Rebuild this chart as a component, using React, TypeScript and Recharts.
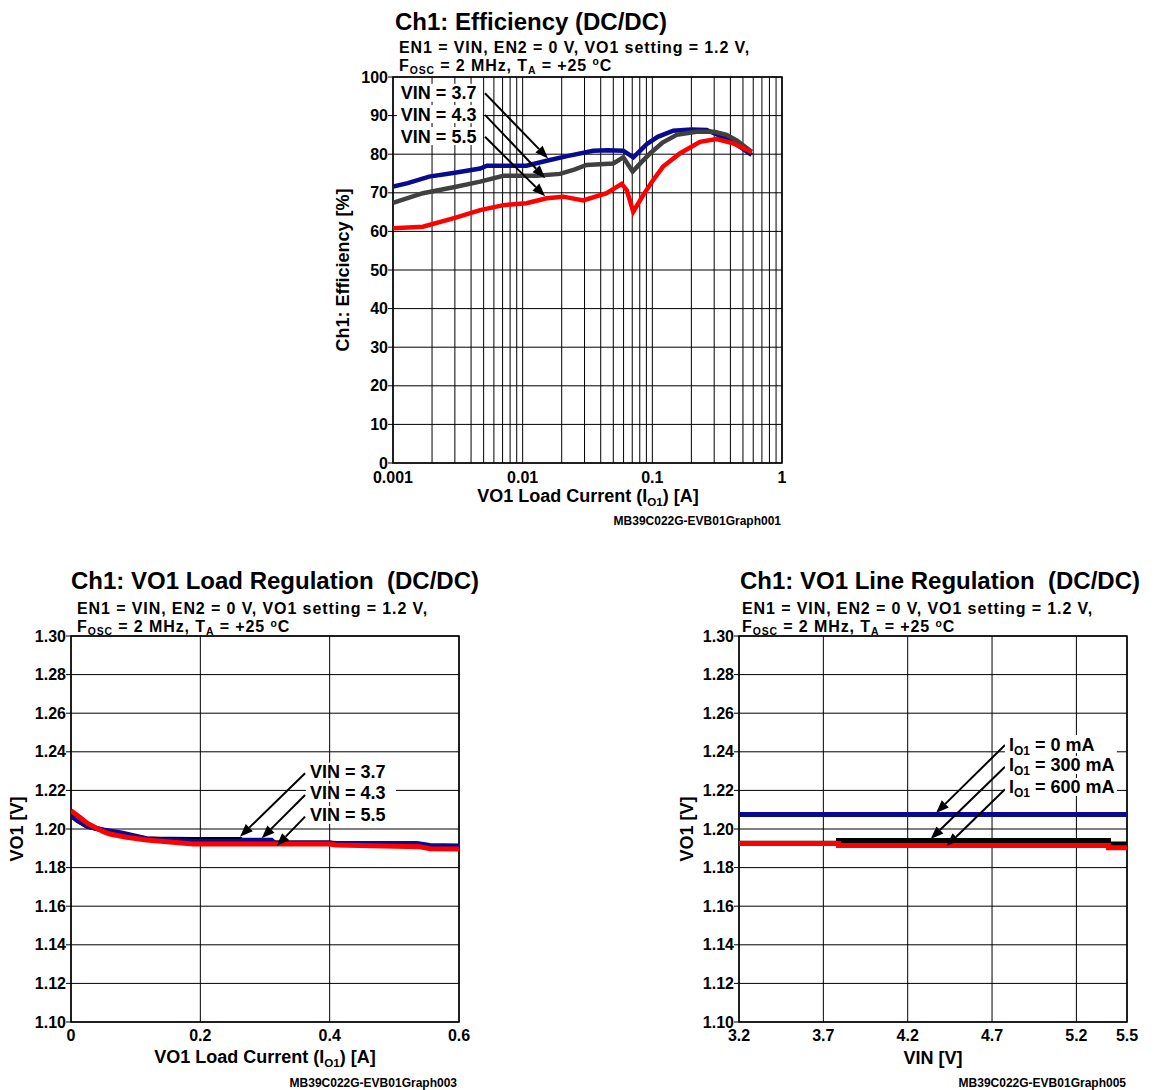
import React from "react";
import {
  LineChart,
  Line,
  XAxis,
  YAxis,
  CartesianGrid,
  ReferenceLine,
  ReferenceDot,
  ReferenceArea,
} from "recharts";

const FONT = "'Liberation Sans', Arial, Helvetica, sans-serif";

// ---------- Chart 1: efficiency vs load current (log x) ----------
const effXTicks = [
  0.001, 0.002, 0.003, 0.004, 0.005, 0.006, 0.007, 0.008, 0.009,
  0.01, 0.02, 0.03, 0.04, 0.05, 0.06, 0.07, 0.08, 0.09,
  0.1, 0.2, 0.3, 0.4, 0.5, 0.6, 0.7, 0.8, 0.9, 1,
];
const effDecades = [0.001, 0.01, 0.1, 1];
const effDecadeLabels = ["0.001", "0.01", "0.1", "1"];
const effYTicks = [0, 10, 20, 30, 40, 50, 60, 70, 80, 90, 100];

const cur37 = [0.001, 0.0013, 0.0019, 0.003, 0.0047, 0.0053, 0.0075, 0.0107, 0.0153, 0.022, 0.035, 0.045, 0.0597, 0.0713, 0.08, 0.0904, 0.11, 0.145, 0.2, 0.262, 0.352, 0.45, 0.583];
const eff37 = [71.6, 72.5, 74.2, 75.2, 76.3, 77.0, 77.0, 77.0, 78.3, 79.5, 80.9, 81.0, 80.9, 79.2, 80.8, 82.6, 84.5, 86.1, 86.4, 86.3, 84.4, 82.5, 79.8];

const cur43 = [0.001, 0.0017, 0.003, 0.0047, 0.0071, 0.0128, 0.0194, 0.025, 0.0311, 0.05, 0.0597, 0.0705, 0.08, 0.096, 0.12, 0.154, 0.219, 0.3, 0.374, 0.45, 0.583];
const eff43 = [67.4, 69.9, 71.5, 72.9, 74.4, 74.4, 74.9, 76.0, 77.2, 77.6, 79.2, 75.5, 77.5, 80.2, 83.0, 85.0, 85.8, 85.8, 85.0, 83.5, 80.6];

const cur55 = [0.001, 0.0017, 0.003, 0.0047, 0.0071, 0.0107, 0.0153, 0.0206, 0.0293, 0.0444, 0.058, 0.0634, 0.0713, 0.085, 0.1, 0.121, 0.163, 0.233, 0.313, 0.421, 0.583];
const eff55 = [60.8, 61.2, 63.5, 65.5, 66.8, 67.3, 68.6, 69.0, 68.0, 69.9, 72.3, 70.7, 65.1, 69.4, 73.0, 76.8, 80.2, 83.2, 83.9, 82.8, 80.6];

const vinLabels = ["VIN = 3.7", "VIN = 4.3", "VIN = 5.5"];
const effLabelX = 0.00115;
const effLabelY = [95.9, 90.4, 84.7];
const effArrowFrom = [[0.00512, 95.8], [0.00512, 90.2], [0.00512, 84.5]];
const effArrowTo = [[0.0157, 78.9], [0.0149, 73.8], [0.0149, 69.1]];

// ---------- Chart 2: load regulation ----------
const regYTicks = [1.1, 1.12, 1.14, 1.16, 1.18, 1.2, 1.22, 1.24, 1.26, 1.28, 1.3];
const loadXTicks = [0, 0.2, 0.4, 0.6];

const load43 = [0, 0.01, 0.025, 0.05, 0.086, 0.117, 0.189, 0.262, 0.266, 0.4, 0.41, 0.53, 0.555, 0.6];
const reg43 = [1.207, 1.2045, 1.2015, 1.1993, 1.1968, 1.1948, 1.1945, 1.1945, 1.1928, 1.1928, 1.1921, 1.1918, 1.1908, 1.1905];

const load37 = [0, 0.01, 0.025, 0.05, 0.08, 0.117, 0.189, 0.262, 0.266, 0.31, 0.315, 0.4, 0.41, 0.535, 0.555, 0.6];
const reg37 = [1.207, 1.2045, 1.2015, 1.1995, 1.1978, 1.195, 1.1936, 1.1936, 1.1942, 1.1942, 1.1928, 1.1928, 1.1925, 1.1925, 1.1915, 1.1912];

const load55 = [0, 0.012, 0.025, 0.05, 0.06, 0.086, 0.117, 0.189, 0.4, 0.41, 0.54, 0.555, 0.6];
const reg55 = [1.2095, 1.2065, 1.203, 1.1986, 1.1974, 1.1957, 1.1943, 1.1922, 1.1922, 1.1917, 1.1908, 1.1898, 1.1896];

const loadLabelX = 0.3696;
const loadLabelY = [1.2297, 1.2187, 1.2073];
const loadArrowFrom = [[0.362, 1.2289], [0.362, 1.2176], [0.362, 1.2064]];
const loadArrowTo = [[0.2613, 1.196], [0.2949, 1.1952], [0.318, 1.1912]];

// ---------- Chart 3: line regulation ----------
const vinXTicks = [3.2, 3.7, 4.2, 4.7, 5.2, 5.5];
const vinPts = [3.2, 3.79, 5.39, 5.5];
const vo0mA = [1.2075, 1.2075, 1.2075, 1.2075];
const vo300mA = [1.1926, 1.194, 1.1922, 1.1922];
const vo600mA = [1.1925, 1.1915, 1.1903, 1.1903];

const ioLabels = ["0 mA", "300 mA", "600 mA"];
const lineLabelX = 4.8;
const lineLabelY = [1.244, 1.2332, 1.2218];
const lineArrowFrom = [[4.777, 1.2435], [4.777, 1.2323], [4.777, 1.2206]];
const lineArrowTo = [[4.368, 1.2083], [4.336, 1.1948], [4.431, 1.1912]];

const pts = (xs: number[], ys: number[]) => xs.map((x, i) => ({ x, y: ys[i] }));

const tickStyle = { fontSize: 16, fontWeight: "bold", fill: "#000", fontFamily: FONT };

const Arrow = (p: any) => {
  const { x1, y1, x2, y2 } = p;
  const ang = Math.atan2(y2 - y1, x2 - x1);
  const L = 13;
  const W = 5;
  const bx = x2 - L * Math.cos(ang);
  const by = y2 - L * Math.sin(ang);
  const nx = -Math.sin(ang) * W;
  const ny = Math.cos(ang) * W;
  return (
    <g>
      <line x1={x1} y1={y1} x2={bx} y2={by} stroke="#000" strokeWidth={2} />
      <polygon points={`${x2},${y2} ${bx + nx},${by + ny} ${bx - nx},${by - ny}`} fill="#000" />
    </g>
  );
};

const labelShape = (content: React.ReactNode, width: number) => (p: any) => (
  <g>
    <rect x={p.cx - 4} y={p.cy - 9} width={width} height={18} fill="#fff" />
    <text
      x={p.cx}
      y={p.cy}
      dy="0.36em"
      fontSize={18}
      fontWeight="bold"
      fontFamily={FONT}
      fill="#000"
    >
      {content}
    </text>
  </g>
);

const ioContent = (v: string) => [
  <tspan key="a">I</tspan>,
  <tspan key="b" fontSize={12} dy={4}>O1</tspan>,
  <tspan key="c" dy={-4}>{` = ${v}`}</tspan>,
];

const DecadeTick = (props: any) => {
  const { x, y, payload } = props;
  const i = effDecades.indexOf(payload.value);
  if (i < 0) return <g />;
  return (
    <text x={x} y={y} dy="0.71em" textAnchor="middle" {...tickStyle}>
      {effDecadeLabels[i]}
    </text>
  );
};

const T = ({ x, y, size, align = "left", rotate = false, spacing = 0, children }: any) => {
  let transform = "translateY(-50%)";
  if (align === "center") transform = "translate(-50%, -50%)";
  if (align === "right") transform = "translate(-100%, -50%)";
  if (rotate) transform = "translate(-50%, -50%) rotate(-90deg)";
  return (
    <div
      style={{
        position: "absolute",
        left: x,
        top: y,
        fontSize: size,
        lineHeight: `${size}px`,
        fontWeight: "bold",
        fontFamily: FONT,
        whiteSpace: "pre",
        letterSpacing: spacing,
        transform,
        color: "#000",
      }}
    >
      {children}
    </div>
  );
};

const Sub = ({ children }: any) => (
  <span style={{ fontSize: "0.65em", position: "relative", top: "0.3em" }}>{children}</span>
);
const Sup = ({ children }: any) => (
  <span style={{ fontSize: "0.65em", position: "relative", top: "-0.5em" }}>{children}</span>
);

const Conditions = ({ x, y1, y2 }: any) => (
  <>
    <T x={x} y={y1} size={16} spacing={0.9}>EN1 = VIN, EN2 = 0 V, VO1 setting = 1.2 V,</T>
    <T x={x} y={y2} size={16} spacing={0.9}>
      F<Sub>OSC</Sub> = 2 MHz, T<Sub>A</Sub> = +25 <Sup>o</Sup>C
    </T>
  </>
);

function EfficiencyChart() {
  return (
    <LineChart width={490} height={450} margin={{ top: 17, right: 28, bottom: 17, left: 8 }}>
      <CartesianGrid stroke="#000" strokeWidth={1} />
      <XAxis
        dataKey="x"
        type="number"
        scale="log"
        domain={[0.001, 1]}
        ticks={effXTicks}
        interval={0}
        allowDataOverflow
        axisLine={false}
        tickLine={false}
        tickSize={0}
        tickMargin={9}
        height={30}
        tick={<DecadeTick />}
      />
      <YAxis
        type="number"
        domain={[0, 100]}
        ticks={effYTicks}
        interval={0}
        allowDataOverflow
        axisLine={false}
        tickSize={5}
        tickMargin={0}
        tickLine={{ stroke: "#000" }}
        width={65}
        tick={tickStyle}
      />
      <Line data={pts(cur37, eff37)} dataKey="y" stroke="#0a0a8f" strokeWidth={4.5} dot={false} isAnimationActive={false} />
      <Line data={pts(cur43, eff43)} dataKey="y" stroke="#404040" strokeWidth={4.5} dot={false} isAnimationActive={false} />
      <Line data={pts(cur55, eff55)} dataKey="y" stroke="#ff0000" strokeWidth={4.5} dot={false} isAnimationActive={false} />
      <ReferenceArea x1={0.001} x2={1} y1={0} y2={100} fill="none" stroke="#000" strokeWidth={1.5} />
      {vinLabels.map((l, i) => (
        <ReferenceDot key={"l" + i} x={effLabelX} y={effLabelY[i]} shape={labelShape(l, 86)} />
      ))}
      {effArrowFrom.map((f, i) => (
        <ReferenceLine
          key={"a" + i}
          segment={[{ x: f[0], y: f[1] }, { x: effArrowTo[i][0], y: effArrowTo[i][1] }]}
          shape={Arrow}
        />
      ))}
    </LineChart>
  );
}

function LoadRegChart() {
  return (
    <LineChart width={480} height={460} margin={{ top: 36, right: 21, bottom: 8, left: 6 }}>
      <CartesianGrid stroke="#000" strokeWidth={1} />
      <XAxis
        dataKey="x"
        type="number"
        domain={[0, 0.6]}
        ticks={loadXTicks}
        interval={0}
        allowDataOverflow
        axisLine={false}
        tickLine={false}
        tickSize={0}
        tickMargin={8}
        height={30}
        tick={tickStyle}
        tickFormatter={(v: number) => (v === 0 ? "0" : String(v))}
      />
      <YAxis
        type="number"
        domain={[1.1, 1.3]}
        ticks={regYTicks}
        interval={0}
        allowDataOverflow
        axisLine={false}
        tickSize={5}
        tickMargin={0}
        tickLine={{ stroke: "#000" }}
        width={65}
        tick={tickStyle}
        tickFormatter={(v: number) => v.toFixed(2)}
      />
      <Line data={pts(load43, reg43)} dataKey="y" stroke="#000" strokeWidth={5} dot={false} isAnimationActive={false} />
      <Line data={pts(load37, reg37)} dataKey="y" stroke="#0a0a8f" strokeWidth={5} dot={false} isAnimationActive={false} />
      <Line data={pts(load55, reg55)} dataKey="y" stroke="#ff0000" strokeWidth={5} dot={false} isAnimationActive={false} />
      <ReferenceArea x1={0} x2={0.6} y1={1.1} y2={1.3} fill="none" stroke="#000" strokeWidth={1.5} />
      {vinLabels.map((l, i) => (
        <ReferenceDot key={"l" + i} x={loadLabelX} y={loadLabelY[i]} shape={labelShape(l, 90)} />
      ))}
      {loadArrowFrom.map((f, i) => (
        <ReferenceLine
          key={"a" + i}
          segment={[{ x: f[0], y: f[1] }, { x: loadArrowTo[i][0], y: loadArrowTo[i][1] }]}
          shape={Arrow}
        />
      ))}
    </LineChart>
  );
}

function LineRegChart() {
  return (
    <LineChart width={480} height={460} margin={{ top: 36, right: 21, bottom: 8, left: 6 }}>
      <CartesianGrid stroke="#000" strokeWidth={1} />
      <XAxis
        dataKey="x"
        type="number"
        domain={[3.2, 5.5]}
        ticks={vinXTicks}
        interval={0}
        allowDataOverflow
        axisLine={false}
        tickLine={false}
        tickSize={0}
        tickMargin={8}
        height={30}
        tick={tickStyle}
        tickFormatter={(v: number) => v.toFixed(1)}
      />
      <YAxis
        type="number"
        domain={[1.1, 1.3]}
        ticks={regYTicks}
        interval={0}
        allowDataOverflow
        axisLine={false}
        tickSize={5}
        tickMargin={0}
        tickLine={{ stroke: "#000" }}
        width={65}
        tick={tickStyle}
        tickFormatter={(v: number) => v.toFixed(2)}
      />
      <Line data={pts(vinPts, vo0mA)} dataKey="y" type="stepAfter" stroke="#0a0a8f" strokeWidth={5} dot={false} isAnimationActive={false} />
      <Line data={pts(vinPts, vo300mA)} dataKey="y" type="stepAfter" stroke="#000" strokeWidth={5} dot={false} isAnimationActive={false} />
      <Line data={pts(vinPts, vo600mA)} dataKey="y" type="stepAfter" stroke="#ff0000" strokeWidth={5} dot={false} isAnimationActive={false} />
      <ReferenceArea x1={3.2} x2={5.5} y1={1.1} y2={1.3} fill="none" stroke="#000" strokeWidth={1.5} />
      {ioLabels.map((l, i) => (
        <ReferenceDot key={"l" + i} x={lineLabelX} y={lineLabelY[i]} shape={labelShape(ioContent(l), 112)} />
      ))}
      {lineArrowFrom.map((f, i) => (
        <ReferenceLine
          key={"a" + i}
          segment={[{ x: f[0], y: f[1] }, { x: lineArrowTo[i][0], y: lineArrowTo[i][1] }]}
          shape={Arrow}
        />
      ))}
    </LineChart>
  );
}

export default function App() {
  return (
    <div style={{ position: "absolute", left: 0, top: 0, width: 1154, height: 1090, background: "#fff", fontFamily: FONT }}>
      {/* Efficiency */}
      <div style={{ position: "absolute", left: 320, top: 60 }}>
        <EfficiencyChart />
      </div>
      <T x={395} y={22} size={24}>Ch1: Efficiency (DC/DC)</T>
      <Conditions x={399} y1={48} y2={66.5} />
      <T x={343} y={270} size={18} rotate>Ch1: Efficiency [%]</T>
      <T x={588} y={497} size={18} align="center">
        VO1 Load Current (I<Sub>O1</Sub>) [A]
      </T>
      <T x={781} y={521} size={12} align="right">MB39C022G-EVB01Graph001</T>

      {/* Load regulation */}
      <div style={{ position: "absolute", left: 0, top: 600 }}>
        <LoadRegChart />
      </div>
      <T x={71} y={581} size={24}>Ch1: VO1 Load Regulation  (DC/DC)</T>
      <Conditions x={77} y1={609} y2={628} />
      <T x={17} y={829} size={18} rotate>VO1 [V]</T>
      <T x={265} y={1058} size={18} align="center">
        VO1 Load Current (I<Sub>O1</Sub>) [A]
      </T>
      <T x={457} y={1083} size={12} align="right">MB39C022G-EVB01Graph003</T>

      {/* Line regulation */}
      <div style={{ position: "absolute", left: 668, top: 600 }}>
        <LineRegChart />
      </div>
      <T x={740} y={581} size={24}>Ch1: VO1 Line Regulation  (DC/DC)</T>
      <Conditions x={742} y1={609} y2={628} />
      <T x={687} y={829} size={18} rotate>VO1 [V]</T>
      <T x={933} y={1058} size={18} align="center">VIN [V]</T>
      <T x={1126} y={1083} size={12} align="right">MB39C022G-EVB01Graph005</T>
    </div>
  );
}
